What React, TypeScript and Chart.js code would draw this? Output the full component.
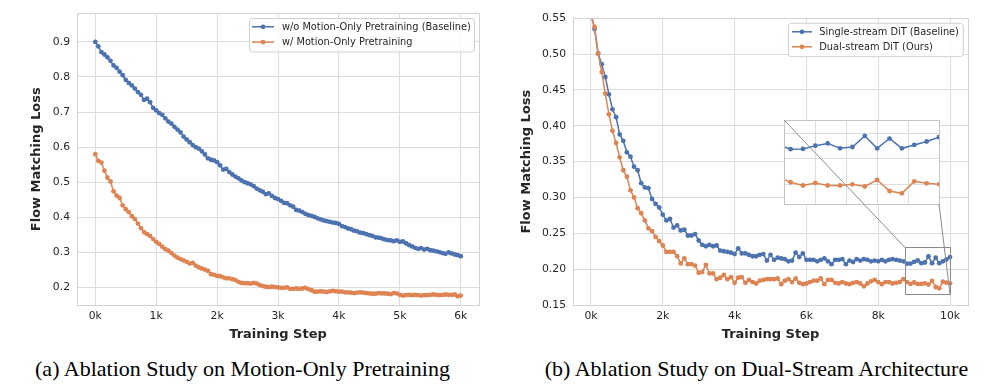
import React, { useEffect, useRef } from "react";
import { Chart, registerables } from "chart.js";

Chart.register(...registerables);

// ---------- data (a) ----------
const STEPS_A = [
  0, 50, 100, 150, 200, 250, 300, 350, 400, 450,
  500, 550, 600, 650, 700, 750, 800, 850, 900, 950,
  1000, 1050, 1100, 1150, 1200, 1250, 1300, 1350, 1400, 1450,
  1500, 1550, 1600, 1650, 1700, 1750, 1800, 1850, 1900, 1950,
  2000, 2050, 2100, 2150, 2200, 2250, 2300, 2350, 2400, 2450,
  2500, 2550, 2600, 2650, 2700, 2750, 2800, 2850, 2900, 2950,
  3000, 3050, 3100, 3150, 3200, 3250, 3300, 3350, 3400, 3450,
  3500, 3550, 3600, 3650, 3700, 3750, 3800, 3850, 3900, 3950,
  4000, 4050, 4100, 4150, 4200, 4250, 4300, 4350, 4400, 4450,
  4500, 4550, 4600, 4650, 4700, 4750, 4800, 4850, 4900, 4950,
  5000, 5050, 5100, 5150, 5200, 5250, 5300, 5350, 5400, 5450,
  5500, 5550, 5600, 5650, 5700, 5750, 5800, 5850, 5900, 5950,
  6000,
];
const BASELINE_A = [
  0.900, 0.887, 0.871, 0.864, 0.856, 0.846, 0.833, 0.826, 0.815, 0.805,
  0.792, 0.783, 0.776, 0.767, 0.757, 0.749, 0.735, 0.738, 0.728, 0.712,
  0.705, 0.697, 0.692, 0.682, 0.673, 0.667, 0.658, 0.650, 0.642, 0.630,
  0.622, 0.614, 0.606, 0.600, 0.596, 0.588, 0.579, 0.568, 0.564, 0.562,
  0.557, 0.548, 0.536, 0.538, 0.529, 0.522, 0.516, 0.511, 0.505, 0.500,
  0.497, 0.494, 0.489, 0.482, 0.477, 0.473, 0.466, 0.468, 0.461, 0.455,
  0.452, 0.447, 0.441, 0.440, 0.434, 0.430, 0.421, 0.419, 0.415, 0.410,
  0.406, 0.404, 0.401, 0.397, 0.394, 0.391, 0.389, 0.387, 0.385, 0.384,
  0.381, 0.375, 0.372, 0.368, 0.366, 0.362, 0.360, 0.356, 0.355, 0.352,
  0.349, 0.347, 0.343, 0.342, 0.340, 0.337, 0.335, 0.334, 0.332, 0.334,
  0.330, 0.331, 0.326, 0.321, 0.317, 0.313, 0.310, 0.312, 0.308, 0.310,
  0.306, 0.305, 0.303, 0.301, 0.298, 0.296, 0.300, 0.297, 0.294, 0.292,
  0.289,
];
const PRETRAIN_A = [
  0.580, 0.561, 0.556, 0.533, 0.513, 0.502, 0.474, 0.462, 0.455, 0.434,
  0.423, 0.415, 0.403, 0.395, 0.382, 0.369, 0.358, 0.352, 0.347, 0.338,
  0.330, 0.324, 0.316, 0.309, 0.305, 0.298, 0.291, 0.285, 0.281, 0.277,
  0.273, 0.268, 0.270, 0.262, 0.257, 0.254, 0.251, 0.247, 0.238, 0.236,
  0.233, 0.232, 0.229, 0.226, 0.226, 0.224, 0.221, 0.216, 0.213, 0.212,
  0.212, 0.211, 0.213, 0.211, 0.207, 0.204, 0.202, 0.201, 0.202, 0.201,
  0.200, 0.199, 0.199, 0.200, 0.196, 0.196, 0.197, 0.196, 0.197, 0.199,
  0.195, 0.192, 0.188, 0.188, 0.189, 0.188, 0.187, 0.189, 0.190, 0.189,
  0.188, 0.188, 0.186, 0.186, 0.185, 0.184, 0.185, 0.186, 0.185, 0.184,
  0.183, 0.182, 0.182, 0.184, 0.183, 0.183, 0.182, 0.181, 0.184, 0.183,
  0.179, 0.177, 0.178, 0.179, 0.178, 0.179, 0.178, 0.177, 0.178, 0.178,
  0.179, 0.180, 0.179, 0.178, 0.179, 0.180, 0.179, 0.179, 0.180, 0.175,
  0.177,
];
const X_TICKS_A = [0, 1000, 2000, 3000, 4000, 5000, 6000];
const Y_TICKS_A = [0.2, 0.3, 0.4, 0.5, 0.6, 0.7, 0.8, 0.9];
const LEGEND_A = ["w/o Motion-Only Pretraining (Baseline)", "w/ Motion-Only Pretraining"];

// ---------- data (b) ----------
const STEPS_B = [
  0, 100, 200, 300, 400, 500, 600, 700, 800, 900,
  1000, 1100, 1200, 1300, 1400, 1500, 1600, 1700, 1800, 1900,
  2000, 2100, 2200, 2300, 2400, 2500, 2600, 2700, 2800, 2900,
  3000, 3100, 3200, 3300, 3400, 3500, 3600, 3700, 3800, 3900,
  4000, 4100, 4200, 4300, 4400, 4500, 4600, 4700, 4800, 4900,
  5000, 5100, 5200, 5300, 5400, 5500, 5600, 5700, 5800, 5900,
  6000, 6100, 6200, 6300, 6400, 6500, 6600, 6700, 6800, 6900,
  7000, 7100, 7200, 7300, 7400, 7500, 7600, 7700, 7800, 7900,
  8000, 8100, 8200, 8300, 8400, 8500, 8600, 8700, 8800, 8900,
  9000, 9100, 9200, 9300, 9400, 9500, 9600, 9700, 9800, 9900,
  10000,
];
const SINGLE_B = [
  0.557, 0.535, 0.501, 0.486, 0.468, 0.444, 0.423, 0.412, 0.388, 0.379,
  0.363, 0.357, 0.343, 0.338, 0.320, 0.314, 0.313, 0.298, 0.291, 0.286,
  0.276, 0.268, 0.270, 0.258, 0.261, 0.254, 0.255, 0.247, 0.247, 0.249,
  0.240, 0.234, 0.232, 0.234, 0.232, 0.233, 0.226, 0.225, 0.224, 0.223,
  0.221, 0.229, 0.222, 0.222, 0.220, 0.218, 0.218, 0.220, 0.221, 0.212,
  0.220, 0.213, 0.216, 0.215, 0.214, 0.211, 0.212, 0.223, 0.217, 0.222,
  0.213, 0.213, 0.213, 0.211, 0.213, 0.215, 0.211, 0.207, 0.213, 0.213,
  0.214, 0.207, 0.212, 0.210, 0.214, 0.212, 0.214, 0.213, 0.211, 0.212,
  0.211, 0.213, 0.211, 0.213, 0.214, 0.213, 0.212, 0.211, 0.2076, 0.2078,
  0.2103, 0.2121, 0.2083, 0.2093, 0.2179, 0.2083, 0.2159, 0.2083, 0.2109, 0.2136,
  0.2169,
];
const DUAL_B = [
  0.553, 0.538, 0.501, 0.475, 0.445, 0.416, 0.393, 0.376, 0.356, 0.338,
  0.329, 0.310, 0.300, 0.285, 0.278, 0.268, 0.257, 0.253, 0.245, 0.239,
  0.233, 0.224, 0.224, 0.224, 0.218, 0.208, 0.215, 0.207, 0.207, 0.205,
  0.195, 0.196, 0.206, 0.194, 0.194, 0.186, 0.188, 0.192, 0.186, 0.189,
  0.181, 0.188, 0.189, 0.181, 0.185, 0.182, 0.180, 0.184, 0.185, 0.186,
  0.186, 0.186, 0.187, 0.179, 0.184, 0.186, 0.182, 0.187, 0.181, 0.179,
  0.180, 0.182, 0.184, 0.184, 0.187, 0.179, 0.185, 0.185, 0.181, 0.180,
  0.182, 0.180, 0.179, 0.181, 0.182, 0.180, 0.176, 0.180, 0.183, 0.185,
  0.182, 0.179, 0.182, 0.182, 0.180, 0.181, 0.182, 0.186, 0.1819, 0.1794,
  0.1814, 0.1794, 0.1794, 0.1803, 0.1786, 0.1837, 0.1751, 0.1733, 0.1826, 0.1811,
  0.1803,
];
const X_TICKS_B = [0, 2000, 4000, 6000, 8000, 10000];
const Y_TICKS_B = [0.15, 0.2, 0.25, 0.3, 0.35, 0.4, 0.45, 0.5, 0.55];
const LEGEND_B = ["Single-stream DiT (Baseline)", "Dual-stream DiT (Ours)"];

// inset (zoom) region of (b)
const INSET_X_RANGE = [8750, 10000];
const INSET_Y_RANGE = [0.165, 0.23];
const INSET_X_TICKS = [9000, 9250, 9500, 9750, 10000];
const INSET_Y_TICKS = [0.18, 0.2, 0.22];

const CAPTIONS = [
  "(a) Ablation Study on Motion-Only Pretraining",
  "(b) Ablation Study on Dual-Stream Architecture",
];

// ---------- styles ----------
const FONT = "'DejaVu Sans', sans-serif";
const TEXT = "#262626";
const GRID = "#dddddd";
const FRAME = "#d2d2d2";
const BLUE = "#4c72b0";
const ORANGE = "#dd8452";
const ZOOM_GRAY = "#8a8a8a";

const B_LEFT = 496;
const INSET_BOX = { left: 782, top: 118, width: 157, height: 86 };

const align = (v: number) => Math.round(v - 0.5) + 0.5;

function framePlugin(color: string) {
  return {
    id: "frame",
    afterDatasetsDraw(chart: any) {
      const { ctx, chartArea: a } = chart;
      ctx.save();
      ctx.strokeStyle = color;
      ctx.lineWidth = 1;
      const l = align(a.left), t = align(a.top), r = align(a.right), b = align(a.bottom);
      ctx.strokeRect(l, t, r - l, b - t);
      ctx.restore();
    },
  };
}

function legendPlugin(lg: any) {
  return {
    id: "mplLegend",
    afterDraw(chart: any) {
      const ctx = chart.ctx;
      ctx.save();
      ctx.beginPath();
      ctx.roundRect(lg.x, lg.y, lg.w, lg.h, 3);
      ctx.fillStyle = "rgba(255,255,255,0.85)";
      ctx.fill();
      ctx.strokeStyle = "#d0d0d0";
      ctx.lineWidth = 1;
      ctx.stroke();
      lg.labels.forEach((label: string, i: number) => {
        const y = lg.rows[i];
        const color = lg.colors[i];
        ctx.strokeStyle = color;
        ctx.lineWidth = 1.5;
        ctx.beginPath();
        ctx.moveTo(lg.lx1, y);
        ctx.lineTo(lg.lx2, y);
        ctx.stroke();
        ctx.fillStyle = color;
        ctx.beginPath();
        ctx.arc((lg.lx1 + lg.lx2) / 2, y, 2.4, 0, Math.PI * 2);
        ctx.fill();
        ctx.fillStyle = TEXT;
        ctx.font = `9.8px ${FONT}`;
        ctx.textBaseline = "middle";
        ctx.textAlign = "left";
        ctx.fillText(label, lg.tx, y + 0.5);
      });
      ctx.restore();
    },
  };
}

function axes(o: any) {
  return {
    x: {
      type: "linear",
      min: o.xMin,
      max: o.xMax,
      afterBuildTicks: (s: any) => {
        s.ticks = o.xTicks.map((v: number) => ({ value: v }));
      },
      afterFit: (s: any) => {
        s.height = 40;
      },
      ticks: {
        callback: (v: any) => `${Number(v) / 1000}k`,
        color: TEXT,
        font: { size: 10.8 },
        padding: 4.5,
        maxRotation: 0,
        autoSkip: false,
      },
      grid: { color: GRID, lineWidth: 1, drawTicks: false },
      border: { display: false },
      title: {
        display: true,
        text: "Training Step",
        color: TEXT,
        font: { size: 13, weight: "bold" },
        padding: { top: 0, bottom: 2.2 },
      },
    },
    y: {
      type: "linear",
      min: o.yMin,
      max: o.yMax,
      afterBuildTicks: (s: any) => {
        s.ticks = o.yTicks.map((v: number) => ({ value: v }));
      },
      afterFit: (s: any) => {
        s.width = 77;
      },
      ticks: {
        callback: (v: any) => Number(v).toFixed(o.yDec),
        color: TEXT,
        font: { size: 10.8 },
        padding: 7,
        autoSkip: false,
      },
      grid: { color: GRID, lineWidth: 1, drawTicks: false },
      border: { display: false },
      title: {
        display: true,
        text: "Flow Matching Loss",
        color: TEXT,
        font: { size: 13, weight: "bold" },
        padding: { top: o.yTitlePad, bottom: 0 },
      },
    },
  };
}

function series(steps: number[], values: number[], label: string, color: string, order: number) {
  return {
    label,
    data: steps.map((s, i) => ({ x: s, y: values[i] })),
    borderColor: color,
    backgroundColor: color,
    borderWidth: 1.5,
    pointRadius: 2.4,
    pointBorderWidth: 0,
    pointHoverRadius: 0,
    pointBackgroundColor: color,
    tension: 0,
    order,
  };
}

const baseOptions = {
  responsive: false,
  animation: false,
  devicePixelRatio: 1,
  events: [],
  plugins: { legend: { display: false }, tooltip: { enabled: false }, title: { display: false } },
};

export default function App() {
  const refA = useRef<HTMLCanvasElement>(null);
  const refB = useRef<HTMLCanvasElement>(null);
  const refI = useRef<HTMLCanvasElement>(null);

  useEffect(() => {
    Chart.defaults.font.family = FONT;
    Chart.defaults.color = TEXT;

    const chartA = new Chart(refA.current as any, {
      type: "line",
      data: {
        datasets: [
          series(STEPS_A, BASELINE_A, LEGEND_A[0], BLUE, 1),
          series(STEPS_A, PRETRAIN_A, LEGEND_A[1], ORANGE, 0),
        ],
      },
      options: {
        ...baseOptions,
        layout: { padding: { left: 0, top: 13.3, right: 17, bottom: 0 } },
        scales: axes({
          xMin: -300, xMax: 6300, xTicks: X_TICKS_A,
          yMin: 0.15, yMax: 0.981, yTicks: Y_TICKS_A, yDec: 1, yTitlePad: 28.6,
        }),
      } as any,
      plugins: [
        framePlugin(FRAME),
        legendPlugin({
          x: 249.5, y: 18.5, w: 225, h: 33.5, rows: [26.8, 42.1],
          lx1: 252, lx2: 274, tx: 282, labels: LEGEND_A, colors: [BLUE, ORANGE],
        }),
      ],
    } as any);

    const chartB = new Chart(refB.current as any, {
      type: "line",
      data: {
        datasets: [
          series(STEPS_B, SINGLE_B, LEGEND_B[0], BLUE, 1),
          series(STEPS_B, DUAL_B, LEGEND_B[1], ORANGE, 0),
        ],
      },
      options: {
        ...baseOptions,
        layout: { padding: { left: 0, top: 18.3, right: 28, bottom: 0 } },
        scales: axes({
          xMin: -500, xMax: 10500, xTicks: X_TICKS_B,
          yMin: 0.15, yMax: 0.55, yTicks: Y_TICKS_B, yDec: 2, yTitlePad: 22.4,
        }),
      } as any,
      plugins: [
        framePlugin(FRAME),
        {
          id: "zoomRect",
          afterDatasetsDraw(chart: any) {
            const { ctx } = chart;
            const xs = chart.scales.x, ys = chart.scales.y;
            const x1 = align(xs.getPixelForValue(INSET_X_RANGE[0]));
            const x2 = align(xs.getPixelForValue(INSET_X_RANGE[1]));
            const y1 = align(ys.getPixelForValue(INSET_Y_RANGE[1]));
            const y2 = align(ys.getPixelForValue(INSET_Y_RANGE[0]));
            ctx.save();
            ctx.strokeStyle = ZOOM_GRAY;
            ctx.lineWidth = 1;
            ctx.strokeRect(x1, y1, x2 - x1, y2 - y1);
            ctx.restore();
          },
        },
        legendPlugin({
          x: 788.3 - B_LEFT, y: 23.3, w: 175, h: 33.4, rows: [31.8, 46.8],
          lx1: 792 - B_LEFT, lx2: 812 - B_LEFT, tx: 819.3 - B_LEFT, labels: LEGEND_B, colors: [BLUE, ORANGE],
        }),
      ],
    } as any);

    // zoom rectangle corners in page coordinates, from chart (b) scales
    const xs = chartB.scales.x as any;
    const ys = chartB.scales.y as any;
    const rect = {
      x1: B_LEFT + xs.getPixelForValue(INSET_X_RANGE[0]),
      y1: ys.getPixelForValue(INSET_Y_RANGE[1]),
      x2: B_LEFT + xs.getPixelForValue(INSET_X_RANGE[1]),
      y2: ys.getPixelForValue(INSET_Y_RANGE[0]),
    };

    const insetCanvasW = 178;
    const insetCanvasH = 182;
    const chartI = new Chart(refI.current as any, {
      type: "line",
      data: {
        datasets: [
          series(STEPS_B, SINGLE_B, LEGEND_B[0], BLUE, 1),
          series(STEPS_B, DUAL_B, LEGEND_B[1], ORANGE, 0),
        ],
      },
      options: {
        ...baseOptions,
        layout: {
          padding: {
            left: 0, top: 0,
            right: insetCanvasW - INSET_BOX.width,
            bottom: insetCanvasH - INSET_BOX.height,
          },
        },
        scales: {
          x: {
            type: "linear",
            min: INSET_X_RANGE[0],
            max: INSET_X_RANGE[1],
            afterBuildTicks: (s: any) => {
              s.ticks = INSET_X_TICKS.map((v) => ({ value: v }));
            },
            afterFit: (s: any) => {
              s.height = 0;
            },
            ticks: { display: false },
            grid: { color: GRID, lineWidth: 1, drawTicks: false },
            border: { display: false },
          },
          y: {
            type: "linear",
            min: INSET_Y_RANGE[0],
            max: INSET_Y_RANGE[1],
            afterBuildTicks: (s: any) => {
              s.ticks = INSET_Y_TICKS.map((v) => ({ value: v }));
            },
            afterFit: (s: any) => {
              s.width = 0;
            },
            ticks: { display: false },
            grid: { color: GRID, lineWidth: 1, drawTicks: false },
            border: { display: false },
          },
        },
      } as any,
      plugins: [
        {
          id: "insetBg",
          beforeDraw(chart: any) {
            const { ctx, chartArea: a } = chart;
            ctx.save();
            ctx.fillStyle = "#ffffff";
            ctx.fillRect(a.left, a.top, a.right - a.left, a.bottom - a.top);
            ctx.restore();
          },
        },
        framePlugin("#c4c4c4"),
        {
          id: "connectors",
          afterDraw(chart: any) {
            const { ctx, chartArea: a } = chart;
            ctx.save();
            ctx.strokeStyle = ZOOM_GRAY;
            ctx.lineWidth = 1;
            ctx.beginPath();
            ctx.moveTo(a.left, a.top);
            ctx.lineTo(rect.x1 - INSET_BOX.left, rect.y1 - INSET_BOX.top);
            ctx.moveTo(a.right, a.bottom);
            ctx.lineTo(rect.x2 - INSET_BOX.left, rect.y2 - INSET_BOX.top);
            ctx.stroke();
            ctx.restore();
          },
        },
      ],
    } as any);

    return () => {
      chartA.destroy();
      chartB.destroy();
      chartI.destroy();
    };
  }, []);

  const captionStyle: any = {
    position: "absolute",
    top: 358,
    fontFamily: "'Liberation Serif', 'Times New Roman', serif",
    fontSize: 22,
    lineHeight: "22px",
    color: "#000",
    textAlign: "center",
    whiteSpace: "nowrap",
  };

  return (
    <div style={{ position: "absolute", left: 0, top: 0, width: 996, height: 384, background: "#fff", overflow: "hidden" }}>
      <canvas ref={refA} width={496} height={345} style={{ position: "absolute", left: 0, top: 0, width: 496, height: 345 }} />
      <canvas ref={refB} width={500} height={345} style={{ position: "absolute", left: B_LEFT, top: 0, width: 500, height: 345 }} />
      <canvas
        ref={refI}
        width={178}
        height={182}
        style={{ position: "absolute", left: INSET_BOX.left, top: INSET_BOX.top, width: 178, height: 182 }}
      />
      <div style={{ ...captionStyle, left: 0, width: 485 }}>{CAPTIONS[0]}</div>
      <div style={{ ...captionStyle, left: 513, width: 487 }}>{CAPTIONS[1]}</div>
    </div>
  );
}
